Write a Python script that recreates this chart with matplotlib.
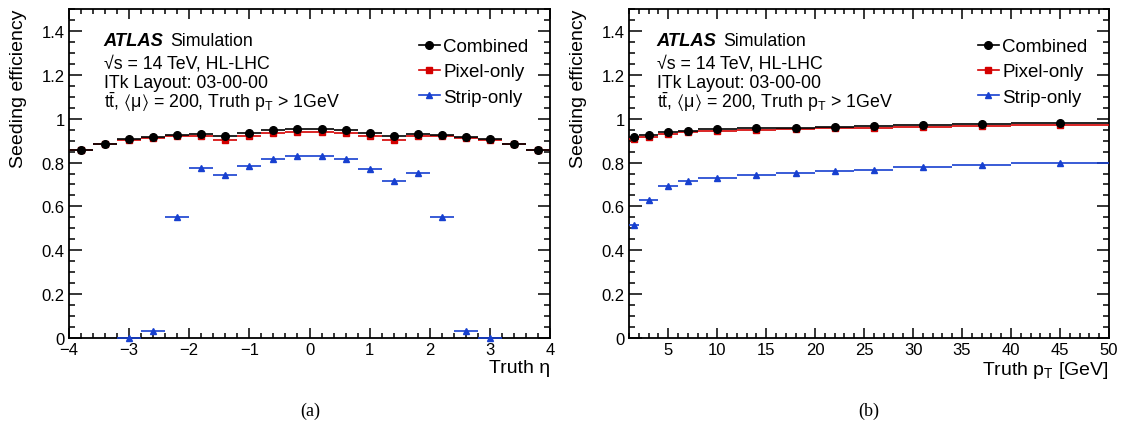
import numpy as np
import matplotlib
matplotlib.use('Agg')
import matplotlib.pyplot as plt
from matplotlib.lines import Line2D
from matplotlib.ticker import MultipleLocator

plt.rcParams['font.family'] = ['Liberation Sans', 'DejaVu Sans']
plt.rcParams['mathtext.fontset'] = 'custom'
plt.rcParams['mathtext.rm'] = 'Liberation Sans'
plt.rcParams['mathtext.it'] = 'Liberation Sans:italic'
plt.rcParams['mathtext.bf'] = 'Liberation Sans:bold'
plt.rcParams['mathtext.fallback'] = 'stixsans'

# eta bins (width 0.4)
eta_edges = np.arange(-4.0, 4.01, 0.4)
eta_combined = [0.858, 0.886, 0.909, 0.915, 0.924, 0.930, 0.920, 0.935, 0.947, 0.953,
                0.953, 0.947, 0.935, 0.920, 0.930, 0.924, 0.915, 0.909, 0.886, 0.858]
eta_pixel = [0.856, 0.885, 0.905, 0.913, 0.922, 0.922, 0.905, 0.922, 0.933, 0.938,
             0.938, 0.933, 0.922, 0.905, 0.922, 0.922, 0.913, 0.905, 0.885, 0.856]
# strip-only only filled for |eta| < 3.2
eta_strip = [np.nan, np.nan, 0.0, 0.033, 0.552, 0.777, 0.744, 0.785, 0.815, 0.830,
             0.829, 0.815, 0.770, 0.714, 0.753, 0.552, 0.033, 0.0, np.nan, np.nan]

# pT bins [GeV]
pt_edges = np.array([1, 2, 4, 6, 8, 12, 16, 20, 24, 28, 34, 40, 50])
pt_combined = [0.917, 0.926, 0.939, 0.944, 0.952, 0.956, 0.959, 0.964, 0.967, 0.970, 0.974, 0.979]
pt_pixel = [0.909, 0.917, 0.930, 0.939, 0.944, 0.950, 0.955, 0.958, 0.958, 0.962, 0.967, 0.971]
pt_strip = [0.515, 0.629, 0.691, 0.714, 0.730, 0.744, 0.752, 0.761, 0.768, 0.779, 0.791, 0.800]

series = [
    ('Combined', 'black', 'o', 5.5),
    ('Pixel-only', '#d40000', 's', 5.0),
    ('Strip-only', '#1740d0', '^', 5.0),
]

FS_ATLAS = 13.2
FS_INFO = 12.8
FS_LEG = 13.5
FS_LAB = 14
FS_TICK = 12


def draw_panel(ax, edges, vals, xlabel, x0):
    edges = np.asarray(edges, dtype=float)
    centers = 0.5 * (edges[1:] + edges[:-1])
    half = 0.5 * (edges[1:] - edges[:-1])
    # strip first, combined last so it sits on top
    for (name, col, mk, ms), v in reversed(list(zip(series, vals))):
        v = np.asarray(v, dtype=float)
        ax.errorbar(centers, v, xerr=half, yerr=0.004, fmt=mk, color=col, ms=ms,
                    elinewidth=1.2, capsize=0, zorder=3, clip_on=False)

    ax.set_ylim(0, 1.5)
    ax.set_xlim(edges[0], edges[-1])
    ax.yaxis.set_minor_locator(MultipleLocator(0.05))
    ax.set_yticks([0, 0.2, 0.4, 0.6, 0.8, 1.0, 1.2, 1.4])
    ax.set_yticklabels(['0', '0.2', '0.4', '0.6', '0.8', '1', '1.2', '1.4'])
    ax.tick_params(which='both', direction='in', top=True, right=True,
                   labelsize=FS_TICK, width=1.1)
    ax.tick_params(axis='x', which='major', length=7, pad=3)
    ax.tick_params(axis='x', which='minor', length=3.6)
    ax.tick_params(axis='y', which='major', length=9, pad=3)
    ax.tick_params(axis='y', which='minor', length=4.5)
    for s in ax.spines.values():
        s.set_linewidth(1.3)

    ax.set_ylabel('Seeding efficiency', fontsize=FS_LAB, loc='top')
    ax.yaxis.set_label_coords(-0.088, 1.0)
    ax.set_xlabel(xlabel, fontsize=FS_LAB, loc='right', labelpad=1)

    # ATLAS label block
    t = ax.text(x0, 0.891, 'ATLAS', transform=ax.transAxes, fontsize=FS_ATLAS,
                fontweight='bold', fontstyle='italic', va='baseline')
    ax.annotate('Simulation', xy=(1, 0), xycoords=t, xytext=(5, 0),
                textcoords='offset points', fontsize=FS_INFO, va='bottom')
    ax.text(x0, 0.823, '√s = 14 TeV, HL-LHC', transform=ax.transAxes,
            fontsize=FS_INFO, va='baseline')
    ax.text(x0, 0.762, 'ITk Layout: 03-00-00', transform=ax.transAxes,
            fontsize=FS_INFO, va='baseline')
    ax.text(x0, 0.703,
            r'$\mathrm{t\bar{t}}$, $\langle\mathrm{\mu}\rangle$ = 200, Truth p$_{\mathrm{T}}$ > 1GeV',
            transform=ax.transAxes, fontsize=FS_INFO, va='baseline')

    handles = [Line2D([], [], color=c, marker=m, ms=ms, lw=1.2) for (_, c, m, ms) in series]
    ax.legend(handles, [s[0] for s in series], loc='upper right', bbox_to_anchor=(0.955, 0.912),
              frameon=False, fontsize=FS_LEG, handlelength=1.1, handletextpad=0.18,
              labelspacing=0.44, borderaxespad=0.0, borderpad=0.0)


fig = plt.figure(figsize=(11.22, 4.39), dpi=100)
ax1 = fig.add_axes([0.0615, 0.2278, 0.4287, 0.7494])
ax2 = fig.add_axes([0.5606, 0.2278, 0.4278, 0.7494])

draw_panel(ax1, eta_edges, [eta_combined, eta_pixel, eta_strip], 'Truth η', 0.072)
ax1.xaxis.set_major_locator(MultipleLocator(1))
ax1.xaxis.set_minor_locator(MultipleLocator(0.2))

draw_panel(ax2, pt_edges, [pt_combined, pt_pixel, pt_strip], r'Truth p$_{\mathrm{T}}$ [GeV]', 0.058)
ax2.set_xticks([5, 10, 15, 20, 25, 30, 35, 40, 45, 50])
ax2.xaxis.set_minor_locator(MultipleLocator(1))

fig.text(0.2765, 0.052, '(a)', family=['Liberation Serif'], fontsize=13, ha='center')
fig.text(0.7745, 0.052, '(b)', family=['Liberation Serif'], fontsize=13, ha='center')

fig.savefig('out.png', dpi=100)
